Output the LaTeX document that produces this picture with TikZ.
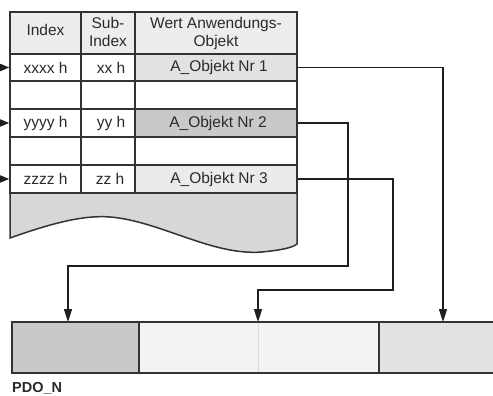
\documentclass[tikz,border=0pt]{standalone}
\usepackage{fontspec}
\setmainfont{Liberation Sans}
\usetikzlibrary{arrows.meta}
\definecolor{linec}{HTML}{333333}
\definecolor{txtc}{HTML}{2A2A2A}
\definecolor{headfill}{HTML}{EDEDED}
\definecolor{lightfill}{HTML}{E2E2E2}
\definecolor{midfill}{HTML}{C9C9C9}
\definecolor{paleFill}{HTML}{F3F3F3}
\definecolor{wavefill}{HTML}{D7D7D7}
\definecolor{faint}{HTML}{DADADA}
\begin{document}
\begin{tikzpicture}[x=1pt,y=-1pt,
  cell/.style={draw=linec, line width=1.5pt, inner sep=0pt, rectangle,
    text=txtc, font=\fontsize{15.5}{18}\selectfont, align=center},
  conn/.style={draw=black!88, line width=1.6pt, -{Triangle[length=13pt,width=8pt]}},
  shortconn/.style={draw=black!88, line width=1.6pt, -{Triangle[length=9pt,width=7pt]}},
  barseg/.style={draw=linec, line width=1.5pt, inner sep=0pt, rectangle,
    minimum height=51pt}]
\useasboundingbox (0,0) rectangle (493,396);
% wave bottom of table
\path[draw=linec, line width=1.5pt, fill=wavefill]
  (10,193) -- (10,238) .. controls (55,222) and (85,215) .. (110,217)
  .. controls (160,221) and (212,256) .. (262,252)
  .. controls (281,250) and (292,248) .. (297,244) -- (297,193);
% header
\node[cell, fill=headfill, minimum width=71pt, minimum height=42pt] (h1) at (45.5,33) {\raisebox{6pt}{Index}};
\node[cell, fill=headfill, minimum width=54pt, minimum height=42pt] (h2) at (108,33) {\raisebox{2pt}{Sub-}\\\raisebox{2pt}{Index}};
\node[cell, fill=headfill, minimum width=162pt, minimum height=42pt] (h3) at (216,33) {Wert Anwendungs-\\Objekt};
% row 1
\node[cell, fill=white, minimum width=71pt, minimum height=27pt] (r1c1) at (45.5,67.5) {xxxx h};
\node[cell, fill=white, minimum width=54pt, minimum height=27pt] (r1c2) at (108,67.5) {\hspace{6pt}xx h};
\node[cell, fill=lightfill, minimum width=162pt, minimum height=27pt] (r1c3) at (216,67.5) {\hspace{6pt}A\_Objekt Nr 1};
% row 2
\node[cell, fill=white, minimum width=71pt, minimum height=28pt] (r2c1) at (45.5,95) {};
\node[cell, fill=white, minimum width=54pt, minimum height=28pt] (r2c2) at (108,95) {};
\node[cell, fill=white, minimum width=162pt, minimum height=28pt] (r2c3) at (216,95) {};
% row 3
\node[cell, fill=white, minimum width=71pt, minimum height=28pt] (r3c1) at (45.5,123) {yyyy h};
\node[cell, fill=white, minimum width=54pt, minimum height=28pt] (r3c2) at (108,123) {\hspace{6pt}yy h};
\node[cell, fill=midfill, minimum width=162pt, minimum height=28pt] (r3c3) at (216,123) {\hspace{4pt}A\_Objekt Nr 2};
% row 4
\node[cell, fill=white, minimum width=71pt, minimum height=28pt] (r4c1) at (45.5,151) {};
\node[cell, fill=white, minimum width=54pt, minimum height=28pt] (r4c2) at (108,151) {};
\node[cell, fill=white, minimum width=162pt, minimum height=28pt] (r4c3) at (216,151) {};
% row 5
\node[cell, fill=white, minimum width=71pt, minimum height=28pt] (r5c1) at (45.5,179) {zzzz h};
\node[cell, fill=white, minimum width=54pt, minimum height=28pt] (r5c2) at (108,179) {\hspace{4pt}zz h};
\node[cell, fill=lightfill!70!white, minimum width=162pt, minimum height=28pt] (r5c3) at (216,179) {\hspace{6pt}A\_Objekt Nr 3};
% bottom bar
\node[barseg, fill=midfill, minimum width=127pt] (seg1) at (75.5,347.5) {};
\node[barseg, fill=paleFill, minimum width=240pt] (seg2) at (259,347.5) {};
\node[barseg, fill=lightfill, minimum width=121pt] (seg3) at (439.5,347.5) {};
\draw[faint, line width=1pt] (258,323) -- (258,372);
\node[anchor=west, inner sep=0pt, text=txtc, font=\fontsize{14.5}{16}\selectfont\bfseries] (pdo) at (12,388) {PDO\_N};
% incoming arrows
\coordinate (in1) at (0,67.5);
\coordinate (in3) at (0,123);
\coordinate (in5) at (0,179);
\draw[shortconn] (in1) -- (r1c1.west);
\draw[shortconn] (in3) -- (r3c1.west);
\draw[shortconn] (in5) -- (r5c1.west);
% connectors to PDO
\coordinate (t1) at (443,322);
\coordinate (t3) at (68,322);
\coordinate (t5) at (258,322);
\draw[conn] (r1c3.east) -| (t1);
\draw[conn] (r3c3.east) -- (348,123) -- (348,266) -- (68,266) -- (t3);
\draw[conn] (r5c3.east) -- (393,179) -- (393,290) -- (258,290) -- (t5);
\end{tikzpicture}
\end{document}
